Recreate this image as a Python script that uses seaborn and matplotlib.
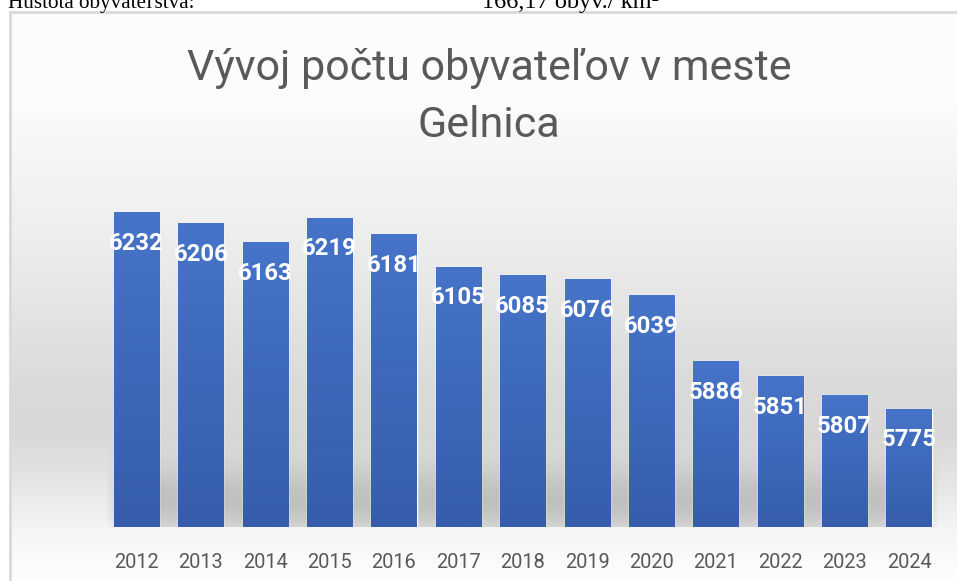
import numpy as np
import pandas as pd
import matplotlib.pyplot as plt
import seaborn as sns
from matplotlib.colors import LinearSegmentedColormap

# data
years = ["2012", "2013", "2014", "2015", "2016", "2017", "2018",
         "2019", "2020", "2021", "2022", "2023", "2024"]
population = [6232, 6206, 6163, 6219, 6181, 6105, 6085,
              6076, 6039, 5886, 5851, 5807, 5775]
title_lines = ["Vývoj počtu obyvateľov v meste", "Gelnica"]
header_left = "Hustota obyvateľstva:"
header_right = "166,17 obyv./ km²"

df = pd.DataFrame({"rok": years, "obyvatelia": population})

sns.set_theme(style="white")
plt.rcParams["font.family"] = ["Roboto", "DejaVu Sans"]

W, H = 957, 581
fig = plt.figure(figsize=(W / 100, H / 100), dpi=100)
fig.patch.set_facecolor("white")

# chart frame with vertical gradient background
bg = fig.add_axes([10 / W, 0, 1 - 10 / W, 1 - 12 / H])
stops = [(0.0, "#fcfcfc"), (0.15, "#fdfdfd"), (0.21, "#f8f8f8"), (0.42, "#ececec"),
         (0.66, "#dadada"), (0.74, "#d8d8d8"), (0.82, "#e4e4e4"),
         (0.91, "#f5f5f5"), (1.0, "#fefefe")]
# stops are given from top (0) to bottom (1) -> flip
stops = [(1 - p, c) for p, c in stops][::-1]
bg_cmap = LinearSegmentedColormap.from_list("bg", stops)
grad = np.linspace(0, 1, 256).reshape(-1, 1)
bg.imshow(grad, aspect="auto", cmap=bg_cmap, extent=[0, 1, 0, 1], origin="lower")
bg.set_xlim(0, 1)
bg.set_ylim(0, 1)
bg.set_xticks([])
bg.set_yticks([])
for side in ["right", "bottom"]:
    bg.spines[side].set_visible(False)
for side in ["left", "top"]:
    bg.spines[side].set_color("#d9d9d9")
    bg.spines[side].set_linewidth(2)

# bar axes
ax = fig.add_axes([104.3 / W, 54 / H, 836.9 / W, 344 / H])
ax.patch.set_alpha(0)
sns.barplot(data=df, x="rok", y="obyvatelia", color="#4472c4", width=0.7,
            saturation=1, ax=ax)
ax.set_ylim(5500, 6300)
ax.set_xlim(-0.5, len(years) - 0.5)
xlim, ylim = ax.get_xlim(), ax.get_ylim()

# soft shadow under the bars
h_prof = np.linspace(0, 1, 100)
alpha = 0.45 * np.exp(-((h_prof - 0.25) / 0.4) ** 2)
w_prof = np.clip(np.minimum(np.linspace(0, 1, 300), np.linspace(1, 0, 300)) * 40, 0, 1)
rgba = np.zeros((100, 300, 4))
rgba[..., :3] = 0.55
rgba[..., 3] = alpha[:, None] * w_prof[None, :]
ax.imshow(rgba, extent=[0.0, 1.0, 0.0, 0.28], transform=ax.transAxes,
          origin="lower", aspect="auto", zorder=0.5)

# gradient fill of the bars
bar_cmap = LinearSegmentedColormap.from_list("bar", ["#355dab", "#4674c8"])
for p in ax.patches:
    x0, w, top = p.get_x(), p.get_width(), p.get_height()
    im = ax.imshow(np.linspace(0, 1, 256).reshape(-1, 1), cmap=bar_cmap,
                   extent=[x0, x0 + w, ylim[0], top], origin="lower",
                   aspect="auto", zorder=p.get_zorder() + 0.1)
    im.set_clip_path(p)
ax.set_xlim(xlim)
ax.set_ylim(ylim)

# value labels inside the bar tops
for p, v in zip(ax.patches, population):
    ax.annotate(str(v), (p.get_x() + p.get_width() / 2, p.get_height()),
                xytext=(0, -27.1), textcoords="offset points",
                ha="center", va="baseline", color="white",
                fontsize=17.2, fontweight="bold", zorder=5)

ax.set_xlabel("")
ax.set_ylabel("")
ax.set_yticks([])
ax.tick_params(axis="x", length=0, pad=18.4, labelsize=14.4, labelcolor="#595959")
sns.despine(ax=ax, left=True, bottom=True)

# title
fig.text(489 / W, 1 - 80 / H, title_lines[0], ha="center", va="baseline",
         fontsize=31, color="#595959")
fig.text(489 / W, 1 - 137 / H, title_lines[1], ha="center", va="baseline",
         fontsize=31, color="#595959")

# cut-off document text above the chart
fig.text(8 / W, 1 - 8 / H, header_left, ha="left", va="baseline",
         fontsize=15.2, family="Liberation Serif", color="black")
fig.text(482 / W, 1 - 8 / H, header_right, ha="left", va="baseline",
         fontsize=17.5, family="Liberation Serif", color="black")

fig.savefig("out.png", dpi=100)
